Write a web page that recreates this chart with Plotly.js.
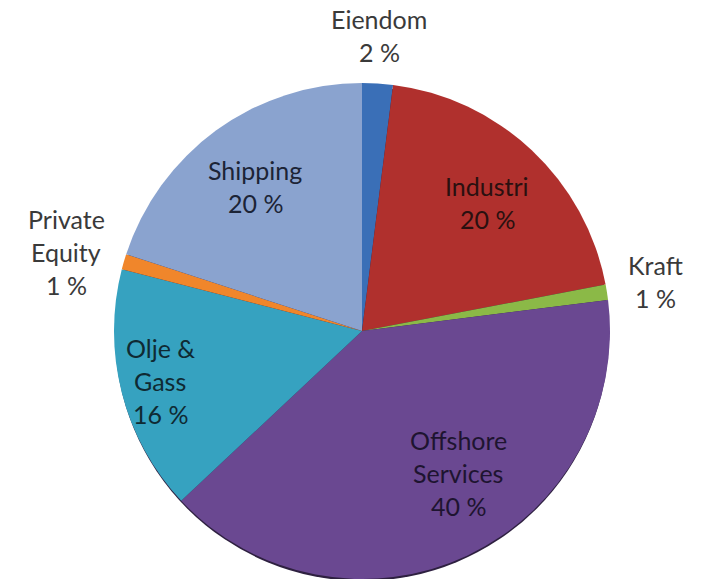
<!DOCTYPE html>
<html>
<head>
<meta charset="utf-8">
<script src="https://cdn.plot.ly/plotly-3.0.1.min.js"></script>
<style>html,body{margin:0;padding:0;background:#fff;}#chart{width:702px;height:579px;}</style>
</head>
<body>
<div id="chart"></div>
<script>
// Data (clockwise from 12 o'clock)
var categories = ["Eiendom", "Industri", "Kraft", "Offshore Services", "Olje & Gass", "Private Equity", "Shipping"];
var shareValues = [2, 20, 1, 40, 16, 1, 20];
// Label lines as printed in the reference
var labelLines = [["Eiendom"], ["Industri"], ["Kraft"], ["Offshore", "Services"], ["Olje &", "Gass"], ["Private", "Equity"], ["Shipping"]];

// Styles / positions (kept separate from the data)
var sliceColors = ["#3a6fb7", "#b0302d", "#8bb947", "#6a4891", "#36a2c0", "#f0862b", "#8aa3cf"];
var labelTop = [ // pixel center of first line of each label block
  [379, 19], [487, 186], [655, 265], [458, 440], [160, 348], [66, 219], [255, 170]
];
var lineGap = 33;
var labelColor = ["#3a3a3a", "#2a1010", "#3a3a3a", "#1e1430", "#0f2a33", "#3a3a3a", "#1c2436"];

var W = 702, H = 579;
var cx = 362, cy = 331, R = 248;

var annotations = [];
categories.forEach(function (c, i) {
  var lines = labelLines[i].concat([shareValues[i] + " %"]);
  lines.forEach(function (t, k) {
    annotations.push({
      xref: "paper", yref: "paper",
      x: labelTop[i][0] / W, y: 1 - (labelTop[i][1] + k * lineGap) / H,
      xanchor: "center", yanchor: "middle",
      text: t,
      showarrow: false,
      font: {family: "Lato, 'Open Sans', sans-serif", size: 25, color: labelColor[i]}
    });
  });
});

var trace = {
  type: "pie",
  labels: categories,
  values: shareValues,
  sort: false,
  direction: "clockwise",
  rotation: 0,
  textinfo: "none",
  hoverinfo: "label+percent",
  marker: {colors: sliceColors, line: {width: 0}},
  domain: {x: [(cx - R) / W, (cx + R) / W], y: [(H - cy - R) / H, (H - cy + R) / H]},
  showlegend: false
};

var layout = {
  width: W, height: H,
  margin: {l: 0, r: 0, t: 0, b: 0},
  paper_bgcolor: "#ffffff",
  plot_bgcolor: "rgba(0,0,0,0)",
  showlegend: false,
  annotations: annotations,
  shapes: [{
    type: "circle", layer: "below",
    xref: "paper", yref: "paper",
    x0: (cx - R + 1) / W, x1: (cx + R - 1) / W,
    y0: (H - cy - R - 2) / H, y1: (H - cy + R - 4) / H,
    fillcolor: "#2e2040", line: {width: 0}
  }]
};

Plotly.newPlot("chart", [trace], layout, {displayModeBar: false, staticPlot: true});
</script>
</body>
</html>
